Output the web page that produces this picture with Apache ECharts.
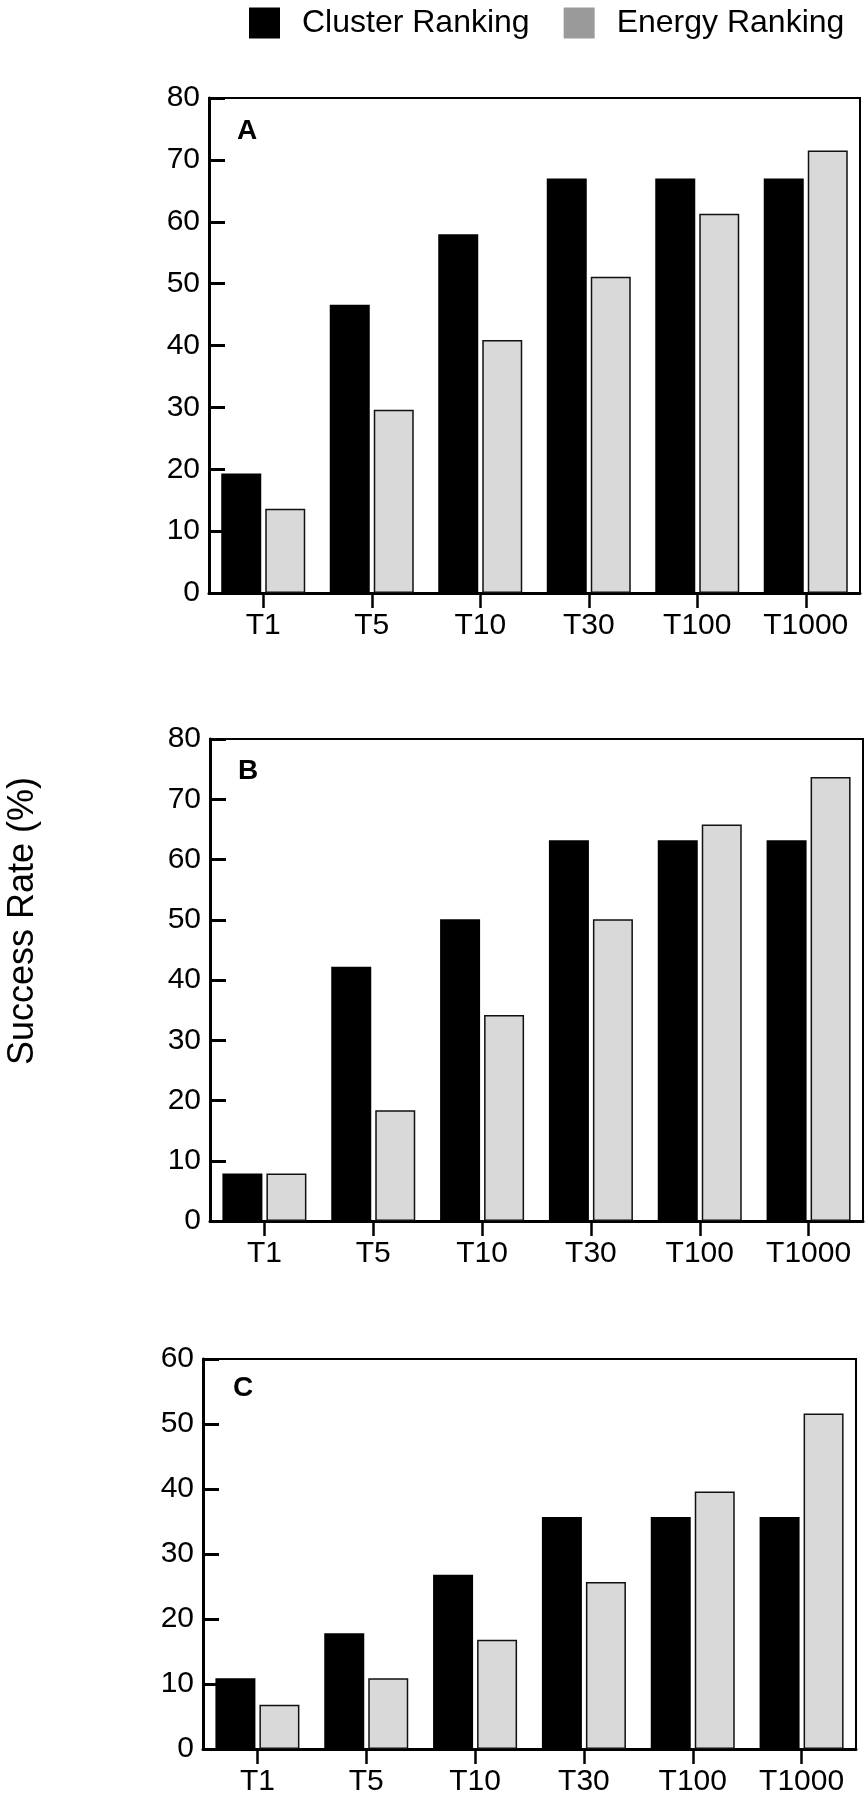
<!DOCTYPE html>
<html>
<head>
<meta charset="utf-8">
<script src="https://cdn.jsdelivr.net/npm/echarts@6/dist/echarts.min.js"></script>
<style>
  html, body { margin: 0; padding: 0; background: #fff; }
  #chart { width: 866px; height: 1800px; }
</style>
</head>
<body>
<div id="chart"></div>
<script>
// ---- data ----
const categories = ['T1', 'T5', 'T10', 'T30', 'T100', 'T1000'];
const seriesNames = ['Cluster Ranking', 'Energy Ranking'];
const panelLabels = ['A', 'B', 'C'];
const clusterA = [19.3, 46.6, 58.0, 67.0, 67.0, 67.0];
const energyA  = [13.6, 29.6, 40.9, 51.1, 61.3, 71.5];
const clusterB = [7.9, 42.2, 50.1, 63.2, 63.2, 63.2];
const energyB  = [7.9, 18.4, 34.2, 50.1, 65.8, 73.7];
const clusterC = [10.9, 17.8, 26.8, 35.7, 35.7, 35.7];
const energyC  = [6.8, 10.9, 16.8, 25.7, 39.6, 51.6];
const yMax = [80, 80, 60];
const yAxisTitle = 'Success Rate (%)';

// ---- layout / style ----
const FONT = '"Liberation Sans", Arial, Helvetica, sans-serif';
const grids = [
  { left: 209, top: 98,   width: 651, height: 495 },
  { left: 210, top: 739,  width: 653, height: 482 },
  { left: 203, top: 1359, width: 653, height: 390 }
];
const labelPos = [[247, 131], [248, 771], [243, 1388]];
const clusterData = [clusterA, clusterB, clusterC];
const energyData = [energyA, energyB, energyC];

const option = {
  animation: false,
  backgroundColor: '#fff',
  legend: {
    left: 249, top: 7, padding: 0,
    itemWidth: 31, itemHeight: 31, itemGap: 34,
    textStyle: { fontFamily: FONT, fontSize: 32, color: '#000', padding: [0, 0, 0, 17] },
    data: [
      { name: seriesNames[0], icon: 'rect', itemStyle: { color: '#000', borderWidth: 0 } },
      { name: seriesNames[1], icon: 'rect', itemStyle: { color: '#9a9a9a', borderWidth: 0 } }
    ]
  },
  grid: grids.map(g => Object.assign({ show: true, borderColor: '#000', borderWidth: 2, backgroundColor: 'transparent' }, g)),
  xAxis: grids.map((g, i) => ({
    type: 'category', gridIndex: i, data: categories,
    axisLine: { lineStyle: { color: '#000', width: 3 } },
    axisTick: { show: true, alignWithLabel: true, interval: 0, length: 15, lineStyle: { color: '#000', width: 2.5 } },
    axisLabel: { interval: 0, fontFamily: FONT, fontSize: 30, color: '#000', margin: 18 },
    splitLine: { show: false }
  })),
  yAxis: grids.map((g, i) => ({
    type: 'value', gridIndex: i, min: 0, max: yMax[i], interval: 10,
    axisLine: { show: true, lineStyle: { color: '#000', width: 3 } },
    axisTick: { show: true, inside: true, length: 16, lineStyle: { color: '#000', width: 3 } },
    axisLabel: { fontFamily: FONT, fontSize: 30, color: '#000', margin: 9 },
    splitLine: { show: false }
  })),
  series: [],
  graphic: []
};

for (let i = 0; i < 3; i++) {
  option.series.push({
    type: 'bar', name: seriesNames[0], xAxisIndex: i, yAxisIndex: i,
    data: clusterData[i], barWidth: 40, barGap: '10%',
    itemStyle: { color: '#000', borderColor: '#000', borderWidth: 0 }
  });
  option.series.push({
    type: 'bar', name: seriesNames[1], xAxisIndex: i, yAxisIndex: i,
    data: energyData[i], barWidth: 40, barGap: '10%',
    itemStyle: { color: '#d9d9d9', borderColor: '#111', borderWidth: 1.5 }
  });
  option.graphic.push({
    type: 'text', x: labelPos[i][0], y: labelPos[i][1],
    style: { text: panelLabels[i], font: 'bold 28px ' + FONT, fill: '#000', textAlign: 'center', textVerticalAlign: 'middle' }
  });
}
option.graphic.push({
  type: 'text', x: 23, y: 921, rotation: Math.PI / 2,
  style: { text: yAxisTitle, font: '36px ' + FONT, fill: '#000', textAlign: 'center', textVerticalAlign: 'middle' }
});

const chart = echarts.init(document.getElementById('chart'), null, { renderer: 'canvas' });
chart.setOption(option);
</script>
</body>
</html>
